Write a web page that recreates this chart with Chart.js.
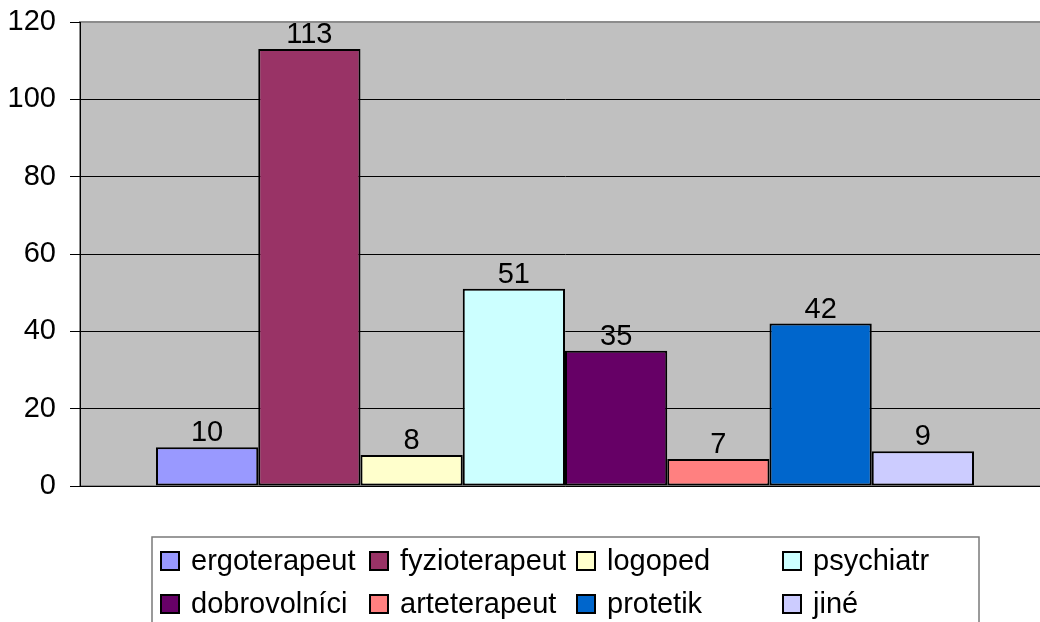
<!DOCTYPE html>
<html>
<head>
<meta charset="utf-8">
<style>
  html, body { margin: 0; padding: 0; background: #ffffff; overflow: hidden; }
  #wrap { width: 1040px; height: 622px; overflow: hidden; }
  canvas { display: block; }
</style>
<script src="https://cdn.jsdelivr.net/npm/chart.js@4.4.1/dist/chart.umd.min.js"></script>
</head>
<body>
<div id="wrap"><canvas id="c" width="1052" height="622"></canvas></div>
<script>
// Profese a počty
const categories = ['ergoterapeut', 'fyzioterapeut', 'logoped', 'psychiatr', 'dobrovolníci', 'arteterapeut', 'protetik', 'jiné'];
const counts = [10, 113, 8, 51, 35, 7, 42, 9];
const colors = ['#9999FF', '#993366', '#FFFFCC', '#CCFFFF', '#660066', '#FF8080', '#0066CC', '#CCCCFF'];
const yTicks = [0, 20, 40, 60, 80, 100, 120];

const FONT = '"Liberation Sans", Arial, sans-serif';

const datasets = categories.map((name, i) => ({
  label: name,
  data: [counts[i]],
  backgroundColor: colors[i],
  borderColor: '#000000',
  borderWidth: 2,
  borderSkipped: false,
  barPercentage: 1.0,
  categoryPercentage: 0.8433
}));

// Šedé pozadí grafu a rámeček
const plotBackground = {
  id: 'plotBackground',
  beforeDraw(chart) {
    const { ctx, chartArea: a } = chart;
    ctx.save();
    ctx.fillStyle = '#C0C0C0';
    ctx.fillRect(a.left, a.top, a.right - a.left, a.bottom - a.top);
    ctx.strokeStyle = '#8C8C8C';
    ctx.lineWidth = 2;
    ctx.strokeRect(a.left, a.top, a.right - a.left, a.bottom - a.top);
    ctx.restore();
  }
};

// Hodnoty nad sloupci
const valueLabels = {
  id: 'valueLabels',
  afterDatasetsDraw(chart) {
    const { ctx } = chart;
    ctx.save();
    ctx.font = '29px ' + FONT;
    ctx.fillStyle = '#000000';
    ctx.textAlign = 'center';
    ctx.textBaseline = 'alphabetic';
    chart.data.datasets.forEach((ds, i) => {
      const meta = chart.getDatasetMeta(i);
      meta.data.forEach((bar, j) => {
        ctx.fillText(String(ds.data[j]), bar.x, bar.y - 6);
      });
    });
    ctx.restore();
  }
};

// Legenda ve čtyřech sloupcích
const gridLegend = {
  id: 'gridLegend',
  afterDraw(chart) {
    const { ctx } = chart;
    const boxX = 152, boxY = 537, boxW = 827, boxH = 100;
    const colX = [161, 370, 577, 783];
    const rowY = [561, 604];
    ctx.save();
    ctx.fillStyle = '#ffffff';
    ctx.fillRect(boxX, boxY, boxW, boxH);
    ctx.strokeStyle = '#7a7a7a';
    ctx.lineWidth = 1.5;
    ctx.strokeRect(boxX, boxY, boxW, boxH);
    ctx.font = '29px ' + FONT;
    ctx.textBaseline = 'middle';
    ctx.textAlign = 'left';
    chart.data.datasets.forEach((ds, i) => {
      const x = colX[i % 4];
      const y = rowY[Math.floor(i / 4)];
      ctx.fillStyle = ds.backgroundColor;
      ctx.fillRect(x, y - 9, 18, 18);
      ctx.strokeStyle = '#000000';
      ctx.lineWidth = 2;
      ctx.strokeRect(x, y - 9, 18, 18);
      ctx.fillStyle = '#000000';
      ctx.fillText(ds.label, x + 30, y + 1);
    });
    ctx.restore();
  }
};

new Chart(document.getElementById('c'), {
  type: 'bar',
  data: { labels: [''], datasets },
  options: {
    responsive: false,
    animation: false,
    layout: { padding: { top: 22, right: 2, bottom: 136, left: 0 } },
    plugins: {
      legend: { display: false },
      tooltip: { enabled: false }
    },
    scales: {
      x: {
        ticks: { display: false },
        grid: { display: false, drawTicks: false },
        border: { display: false },
        afterFit(scale) { scale.height = 0; }
      },
      y: {
        min: 0,
        max: 120,
        afterBuildTicks(scale) { scale.ticks = yTicks.map(v => ({ value: v })); },
        ticks: {
          color: '#000000',
          font: { family: FONT, size: 29 },
          padding: 14
        },
        grid: {
          color: (c) => (c.tick && c.tick.value === 120 ? '#8C8C8C' : '#000000'),
          tickColor: '#000000',
          lineWidth: 1,
          tickLength: 10
        },
        border: { display: true, color: '#000000', width: 1 },
        afterFit(scale) {
          scale.width = 80;
          scale.paddingTop = 0;
          scale.paddingBottom = 0;
        }
      }
    }
  },
  plugins: [plotBackground, valueLabels, gridLegend]
});
</script>
</body>
</html>
